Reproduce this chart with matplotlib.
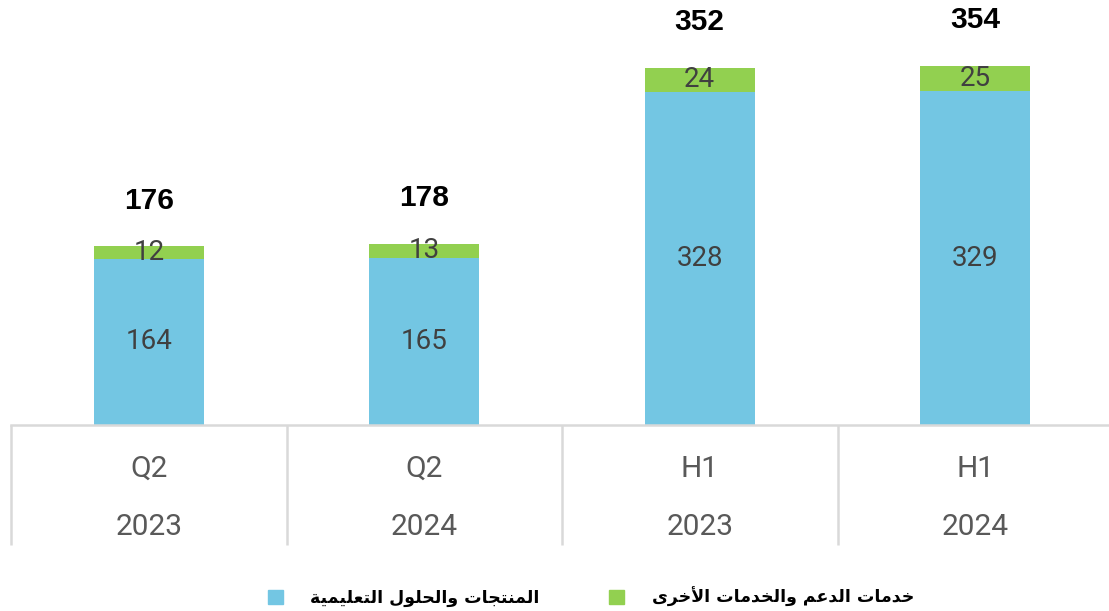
import matplotlib
matplotlib.use('Agg')
from matplotlib import pyplot as plt
from matplotlib.patches import Patch

# data
periods = ['Q2', 'Q2', 'H1', 'H1']
years = ['2023', '2024', '2023', '2024']
products = [164, 165, 328, 329]
services = [12, 13, 24, 25]
totals = [176, 178, 352, 354]

lbl_products = 'المنتجات والحلول التعليمية'
lbl_services = 'خدمات الدعم والخدمات الأخرى'

c_blue = '#73C6E3'
c_green = '#92D050'
c_grid = '#D9D9D9'
c_txt = '#404040'

# matplotlib has no arabic shaping, so pick presentation forms by hand
# (iso, fin, ini, med) ; None -> letter does not join to the next one
forms = {
    'ا': ('\uFE8D', '\uFE8E', None, None),
    'أ': ('\uFE83', '\uFE84', None, None),
    'إ': ('\uFE87', '\uFE88', None, None),
    'آ': ('\uFE81', '\uFE82', None, None),
    'ب': ('\uFE8F', '\uFE90', '\uFE91', '\uFE92'),
    'ت': ('\uFE95', '\uFE96', '\uFE97', '\uFE98'),
    'ث': ('\uFE99', '\uFE9A', '\uFE9B', '\uFE9C'),
    'ة': ('\uFE93', '\uFE94', None, None),
    'ج': ('\uFE9D', '\uFE9E', '\uFE9F', '\uFEA0'),
    'ح': ('\uFEA1', '\uFEA2', '\uFEA3', '\uFEA4'),
    'خ': ('\uFEA5', '\uFEA6', '\uFEA7', '\uFEA8'),
    'د': ('\uFEA9', '\uFEAA', None, None),
    'ذ': ('\uFEAB', '\uFEAC', None, None),
    'ر': ('\uFEAD', '\uFEAE', None, None),
    'ز': ('\uFEAF', '\uFEB0', None, None),
    'س': ('\uFEB1', '\uFEB2', '\uFEB3', '\uFEB4'),
    'ع': ('\uFEC9', '\uFECA', '\uFECB', '\uFECC'),
    'ف': ('\uFED1', '\uFED2', '\uFED3', '\uFED4'),
    'ق': ('\uFED5', '\uFED6', '\uFED7', '\uFED8'),
    'ك': ('\uFED9', '\uFEDA', '\uFEDB', '\uFEDC'),
    'ل': ('\uFEDD', '\uFEDE', '\uFEDF', '\uFEE0'),
    'م': ('\uFEE1', '\uFEE2', '\uFEE3', '\uFEE4'),
    'ن': ('\uFEE5', '\uFEE6', '\uFEE7', '\uFEE8'),
    'ه': ('\uFEE9', '\uFEEA', '\uFEEB', '\uFEEC'),
    'و': ('\uFEED', '\uFEEE', None, None),
    'ى': ('\uFEEF', '\uFEF0', None, None),
    'ي': ('\uFEF1', '\uFEF2', '\uFEF3', '\uFEF4'),
}
lamalef = {'ا': ('\uFEFB', '\uFEFC'), 'أ': ('\uFEF7', '\uFEF8'),
           'إ': ('\uFEF9', '\uFEFA'), 'آ': ('\uFEF5', '\uFEF6')}


def shape_ar(s):
    out = []
    i = 0
    n = len(s)
    while i < n:
        ch = s[i]
        if ch not in forms:
            out.append(ch)
            i += 1
            continue
        prev = s[i-1] if i > 0 else ''
        joins_prev = prev in forms and forms[prev][2] is not None
        if ch == 'ل' and i+1 < n and s[i+1] in lamalef:
            out.append(lamalef[s[i+1]][1 if joins_prev else 0])
            i += 2
            continue
        nxt = s[i+1] if i+1 < n else ''
        joins_next = nxt in forms and forms[ch][2] is not None
        iso, fin, ini, med = forms[ch]
        if joins_prev and joins_next:
            out.append(med)
        elif joins_prev:
            out.append(fin)
        elif joins_next:
            out.append(ini)
        else:
            out.append(iso)
        i += 1
    return ''.join(out)[::-1]


W, H = 1109, 611
fig = plt.figure(figsize=(W/100, H/100), dpi=100)
ax = fig.add_axes([11/W, 186/H, 1 - 11/W, 425/H])

x = list(range(len(periods)))
ax.bar(x, products, width=0.4, color=c_blue, zorder=2)
ax.bar(x, services, width=0.4, bottom=products, color=c_green, zorder=2)

for i in x:
    ax.text(i, products[i]/2, str(products[i]), ha='center', va='center',
            fontsize=20, color=c_txt, family='Roboto')
    ax.text(i, products[i] + services[i]/2, str(services[i]), ha='center', va='center',
            fontsize=20, color=c_txt, family='Roboto')
    ax.annotate(str(totals[i]), (i, totals[i]), xytext=(0, 33), textcoords='offset points',
                ha='center', va='center', fontsize=21.5, fontweight='bold',
                family='Liberation Sans', color='black')
    ax.annotate(periods[i], (i, 0), xycoords=('data', 'axes fraction'), xytext=(0, -31.5),
                textcoords='offset points', ha='center', va='center',
                fontsize=21.5, color='#595959', family='Roboto')
    ax.annotate(years[i], (i, 0), xycoords=('data', 'axes fraction'), xytext=(0, -73.5),
                textcoords='offset points', ha='center', va='center',
                fontsize=21.5, color='#595959', family='Roboto')

ax.set_xlim(-0.5, -0.5 + (W - 11)/275.5)
ax.set_ylim(0, 425/1.015)

for s in ['top', 'right', 'left']:
    ax.spines[s].set_visible(False)
ax.spines['bottom'].set_color(c_grid)
ax.spines['bottom'].set_linewidth(1.8)
ax.set_xticks([])
ax.set_yticks([])

ax.vlines([-0.5, 0.5, 1.5, 2.5], -120/425, 0, transform=ax.get_xaxis_transform(),
          colors=c_grid, linewidth=1.8, clip_on=False)

handles = [Patch(color=c_blue, label=shape_ar(lbl_products)),
           Patch(color=c_green, label=shape_ar(lbl_services))]
fig.legend(handles=handles, loc='center', bbox_to_anchor=(591/W, 14/H), ncol=2,
           frameon=False, prop={'family': 'DejaVu Sans', 'weight': 'bold', 'size': 12.5},
           handlelength=0.85, handleheight=0.85, handletextpad=1.6, columnspacing=4.0)

fig.savefig('out.png', dpi=100)
